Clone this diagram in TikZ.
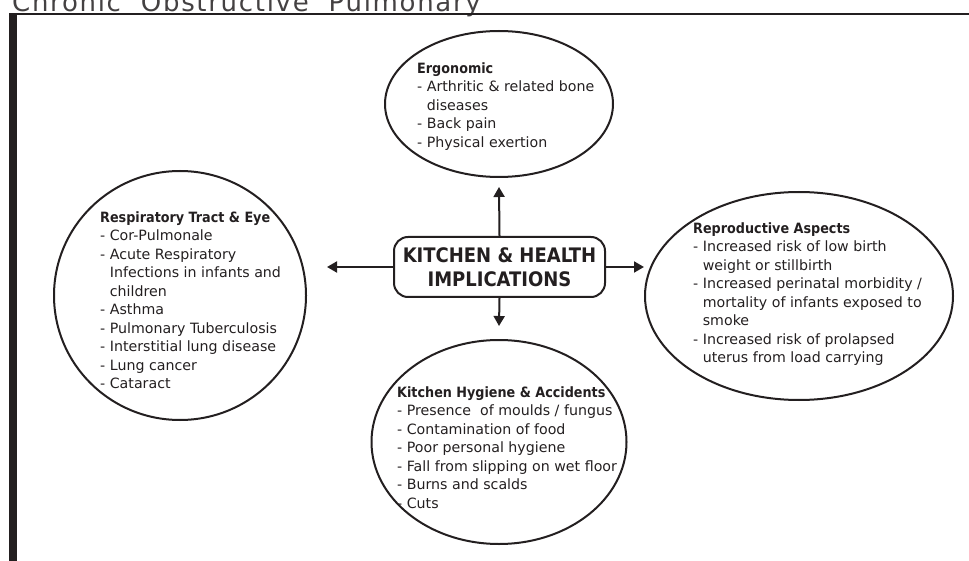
\documentclass[tikz,border=0pt]{standalone}
\usepackage{fontspec}
\setmainfont{DejaVu Sans}[BoldFont={DejaVu Sans Condensed Bold}]
\newfontfamily\headfont[LetterSpace=6.5]{DejaVu Sans}
\usetikzlibrary{shapes.geometric,arrows.meta}
\definecolor{ink}{HTML}{231F20}
\tikzset{
  bubble/.style={ellipse, draw=ink, line width=2pt, inner sep=0pt, outer sep=0pt},
  listtext/.style={anchor=north west, inner sep=0pt, align=left, text=ink,
    font=\fontsize{14.2}{18.5}\selectfont},
  hub/.style={draw=ink, line width=2pt, rounded corners=14pt, inner sep=0pt,
    minimum width=211pt, minimum height=60pt, align=center, text=ink,
    font=\fontsize{20}{24}\selectfont\bfseries},
  link/.style={draw=ink, line width=2pt, -{Triangle[length=10pt,width=11pt]}}
}
\newcommand{\ind}{\phantom{- }}
\begin{document}
\begin{tikzpicture}[x=1pt,y=-1pt]
\useasboundingbox (0,0) rectangle (969,561);
% header (cut off at top)
\node[anchor=base west, inner sep=0pt, text=ink!85, font=\fontsize{26}{30}\headfont] (head) at (12,12) {Chronic \ Obstructive \ Pulmonary};
% frame
\fill[ink] (9,13.3) rectangle (16.6,561);
\draw[ink, line width=1.5pt] (9,14) -- (969,14);
% bubbles
\node[bubble, minimum width=228pt, minimum height=146pt] (ergo) at (499,104) {};
\node[bubble, minimum width=252pt, minimum height=249pt] (resp) at (180,295.5) {};
\node[bubble, minimum width=308pt, minimum height=208pt] (repro) at (799,296) {};
\node[bubble, minimum width=255pt, minimum height=204pt] (hyg) at (499,442) {};
% hub
\node[hub] (hub) at (499.5,267) {KITCHEN \& HEALTH\\IMPLICATIONS};
% arrow tips
\coordinate (tu) at (499,187);
\coordinate (tl) at (327,267);
\coordinate (tr) at (644,267);
\coordinate (td) at (499,326);
\draw[link] (hub.north) -- (tu);
\draw[link] (hub.west) -- (tl);
\draw[link] (hub.east) -- (tr);
\draw[link] (hub.south) -- (td);
% texts
\node[listtext] (ergotxt) at (417,62.5) {\textbf{Ergonomic}\\- Arthritic \& related bone\\\ind diseases\\- Back pain\\- Physical exertion};
\node[listtext] (resptxt) at (100,211.5) {\textbf{Respiratory Tract \& Eye}\\- Cor-Pulmonale\\- Acute Respiratory\\\ind Infections in infants and\\\ind children\\- Asthma\\- Pulmonary Tuberculosis\\- Interstitial lung disease\\- Lung cancer\\- Cataract};
\node[listtext] (reprotxt) at (693,222.5) {\textbf{Reproductive Aspects}\\- Increased risk of low birth\\\ind weight or stillbirth\\- Increased perinatal morbidity /\\\ind mortality of infants exposed to\\\ind smoke\\- Increased risk of prolapsed\\\ind uterus from load carrying};
\node[listtext] (hygtxt) at (397,386.5) {\textbf{Kitchen Hygiene \& Accidents}\\- Presence \ of moulds / fungus\\- Contamination of food\\- Poor personal hygiene\\- Fall from slipping on wet floor\\- Burns and scalds\\- Cuts};
\end{tikzpicture}
\end{document}
